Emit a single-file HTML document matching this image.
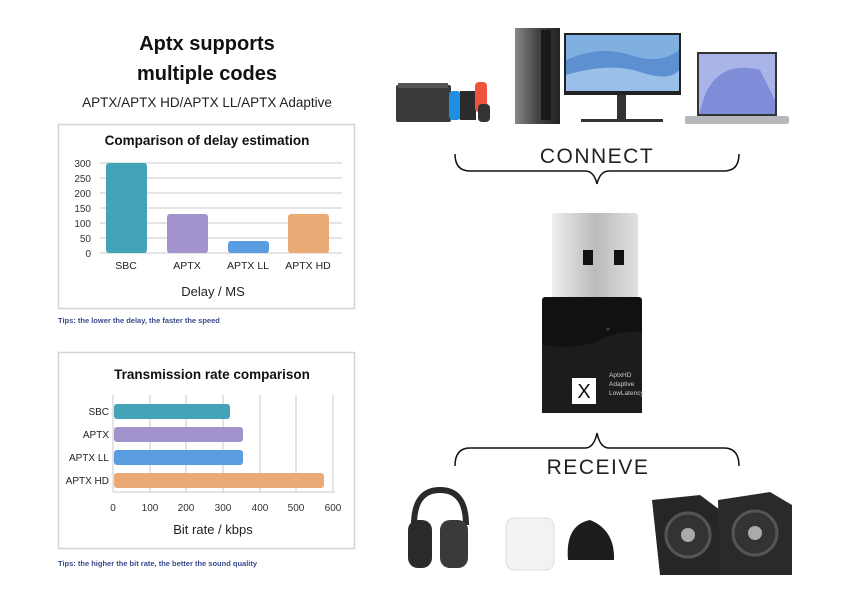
<!DOCTYPE html>
<html><head><meta charset="utf-8"><style>
html,body{margin:0;padding:0;background:#fff;width:850px;height:600px;overflow:hidden}
svg{display:block}
text{font-family:"Liberation Sans",sans-serif}
</style></head><body>
<svg width="850" height="600" viewBox="0 0 850 600" xmlns="http://www.w3.org/2000/svg">
<defs>
<linearGradient id="tw" x1="0" x2="1"><stop offset="0" stop-color="#888"/><stop offset="0.5" stop-color="#444"/><stop offset="1" stop-color="#222"/></linearGradient>
<linearGradient id="mt" x1="0" x2="1"><stop offset="0" stop-color="#eee"/><stop offset="0.5" stop-color="#bbb"/><stop offset="1" stop-color="#e0e0e0"/></linearGradient>
</defs>
<rect width="850" height="600" fill="#fff"/>
<text x="207" y="50" font-size="20" font-weight="bold" text-anchor="middle" fill="#111">Aptx supports</text>
<text x="207" y="80" font-size="20" font-weight="bold" text-anchor="middle" fill="#111">multiple codes</text>
<text x="207" y="107" font-size="13.5" text-anchor="middle" fill="#222">APTX/APTX HD/APTX LL/APTX Adaptive</text>

<rect x="58.5" y="124.5" width="296" height="184" fill="#fff" stroke="#d4d4d4" stroke-width="1.5"/>
<text x="207" y="145" font-size="13.5" font-weight="bold" text-anchor="middle" fill="#111">Comparison of delay estimation</text>
<g stroke="#c8c8c8" stroke-width="1">
<line x1="100" y1="163" x2="342" y2="163"/><line x1="100" y1="178" x2="342" y2="178"/>
<line x1="100" y1="193" x2="342" y2="193"/><line x1="100" y1="208" x2="342" y2="208"/>
<line x1="100" y1="223" x2="342" y2="223"/><line x1="100" y1="238" x2="342" y2="238"/>
<line x1="100" y1="253" x2="342" y2="253"/>
</g>
<g font-size="10" fill="#333" text-anchor="end">
<text x="91" y="167">300</text><text x="91" y="182">250</text><text x="91" y="197">200</text>
<text x="91" y="212">150</text><text x="91" y="227">100</text><text x="91" y="242">50</text><text x="91" y="257">0</text>
</g>
<rect x="106" y="163" width="41" height="90" rx="3" fill="#45a3b8"/>
<rect x="167" y="214" width="41" height="39" rx="3" fill="#a393cc"/>
<rect x="228" y="241" width="41" height="12" rx="3" fill="#5b9be0"/>
<rect x="288" y="214" width="41" height="39" rx="3" fill="#eaaa76"/>
<g font-size="10.5" fill="#222" text-anchor="middle">
<text x="126" y="269">SBC</text><text x="187" y="269">APTX</text><text x="248" y="269">APTX LL</text><text x="308" y="269">APTX HD</text>
</g>
<text x="213" y="296" font-size="13" text-anchor="middle" fill="#222">Delay / MS</text>
<text x="58" y="323" font-size="7.5" font-weight="bold" fill="#3b4a8e">Tips: the lower the delay, the faster the speed</text>

<rect x="58.5" y="352.5" width="296" height="196" fill="#fff" stroke="#d4d4d4" stroke-width="1.5"/>
<text x="212" y="379" font-size="13.5" font-weight="bold" text-anchor="middle" fill="#111">Transmission rate comparison</text>
<g stroke="#c8c8c8" stroke-width="1">
<line x1="113" y1="395" x2="113" y2="492"/><line x1="150" y1="395" x2="150" y2="492"/>
<line x1="186" y1="395" x2="186" y2="492"/><line x1="223" y1="395" x2="223" y2="492"/>
<line x1="260" y1="395" x2="260" y2="492"/><line x1="296" y1="395" x2="296" y2="492"/>
<line x1="333" y1="395" x2="333" y2="492"/><line x1="113" y1="492" x2="335" y2="492"/>
</g>
<rect x="114" y="404" width="116" height="15" rx="3" fill="#45a3b8"/>
<rect x="114" y="427" width="129" height="15" rx="3" fill="#a393cc"/>
<rect x="114" y="450" width="129" height="15" rx="3" fill="#5b9be0"/>
<rect x="114" y="473" width="210" height="15" rx="3" fill="#eaaa76"/>
<g font-size="10" fill="#222" text-anchor="end">
<text x="109" y="415">SBC</text><text x="109" y="438">APTX</text><text x="109" y="461">APTX LL</text><text x="109" y="484">APTX HD</text>
</g>
<g font-size="10" fill="#333" text-anchor="middle">
<text x="113" y="511">0</text><text x="150" y="511">100</text><text x="186" y="511">200</text><text x="223" y="511">300</text>
<text x="260" y="511">400</text><text x="296" y="511">500</text><text x="333" y="511">600</text>
</g>
<text x="213" y="534" font-size="13" text-anchor="middle" fill="#222">Bit rate / kbps</text>
<text x="58" y="566" font-size="7.5" font-weight="bold" fill="#3b4a8e">Tips: the higher the bit rate, the better the sound quality</text>

<!-- switch -->
<rect x="396" y="85" width="55" height="37" rx="2" fill="#3a3a3c"/>
<rect x="398" y="83" width="50" height="5" fill="#555"/>
<rect x="449" y="91" width="12" height="29" rx="4" fill="#1e8fe0"/>
<rect x="460" y="91" width="16" height="29" fill="#2b2b2b"/>
<rect x="475" y="82" width="12" height="30" rx="4" fill="#f0533c"/>
<rect x="478" y="104" width="12" height="18" rx="4" fill="#333"/>
<!-- tower -->
<rect x="515" y="28" width="45" height="96" fill="url(#tw)"/>
<rect x="541" y="30" width="10" height="90" fill="#1a1a1a"/>
<!-- monitor -->
<rect x="564" y="33" width="117" height="62" fill="#222"/>
<rect x="566" y="35" width="113" height="56" fill="#7fb0e0"/>
<path d="M566 60 Q600 45 630 55 T679 50 L679 91 L566 91Z" fill="#5d90d0"/>
<path d="M566 75 Q610 62 640 72 T679 70 L679 91 L566 91Z" fill="#9ac0ea"/>
<rect x="617" y="95" width="9" height="24" fill="#333"/>
<rect x="581" y="119" width="82" height="3" fill="#333"/>
<!-- laptop -->
<rect x="697" y="52" width="80" height="64" fill="#333"/>
<rect x="699" y="54" width="76" height="60" fill="#a9b4e8"/>
<path d="M705 95 Q720 60 760 70 L775 100 L775 114 L699 114Z" fill="#7f8dd8"/>
<rect x="685" y="116" width="104" height="8" rx="2" fill="#b5b7bb"/>

<text x="597" y="163" font-size="21" text-anchor="middle" fill="#222" letter-spacing="1.5">CONNECT</text>
<path d="M455 154 Q455 171 470 171 L585 171 Q594 171 597 184 Q600 171 609 171 L724 171 Q739 171 739 154" fill="none" stroke="#111" stroke-width="1.5"/>

<!-- Dongle -->
<rect x="552" y="213" width="86" height="90" rx="3" fill="url(#mt)"/>
<rect x="583" y="250" width="10" height="15" fill="#111"/>
<rect x="614" y="250" width="10" height="15" fill="#111"/>
<rect x="542" y="297" width="100" height="116" rx="3" fill="#111"/>
<path d="M542 345 Q580 350 600 340 T642 332 L642 413 L542 413Z" fill="#1c1c1c"/>
<circle cx="608" cy="329" r="1.5" fill="#444"/>
<rect x="572" y="378" width="24" height="26" fill="#fff"/>
<text x="584" y="398" font-size="20" text-anchor="middle" fill="#111">X</text>
<g font-size="6.5" fill="#ccc"><text x="609" y="377">AptxHD</text><text x="609" y="386">Adaptive</text><text x="609" y="395">LowLatency</text></g>

<path d="M455 466 Q455 448 470 448 L585 448 Q594 448 597 433 Q600 448 609 448 L724 448 Q739 448 739 466" fill="none" stroke="#111" stroke-width="1.5"/>
<text x="598" y="474" font-size="21" text-anchor="middle" fill="#222" letter-spacing="1.5">RECEIVE</text>

<path d="M414 525 Q414 490 440 490 Q466 490 466 525" fill="none" stroke="#2a2a2a" stroke-width="6"/>
<rect x="408" y="520" width="24" height="48" rx="10" fill="#2a2a2a"/>
<rect x="440" y="520" width="28" height="48" rx="10" fill="#3a3a3a"/>
<rect x="506" y="518" width="48" height="52" rx="8" fill="#f2f2f2" stroke="#ddd"/>
<path d="M568 560 Q565 525 590 520 Q615 530 614 560Z" fill="#1c1c1c"/>
<path d="M652 500 L700 495 L720 510 L720 575 L660 575 Z" fill="#262626"/>
<path d="M718 500 L770 492 L792 505 L792 575 L720 575 Z" fill="#2a2a2a"/>
<circle cx="688" cy="535" r="22" fill="#333" stroke="#555" stroke-width="3"/>
<circle cx="688" cy="535" r="7" fill="#aaa"/>
<circle cx="755" cy="533" r="22" fill="#333" stroke="#555" stroke-width="3"/>
<circle cx="755" cy="533" r="7" fill="#aaa"/>
</svg>
</body></html>
